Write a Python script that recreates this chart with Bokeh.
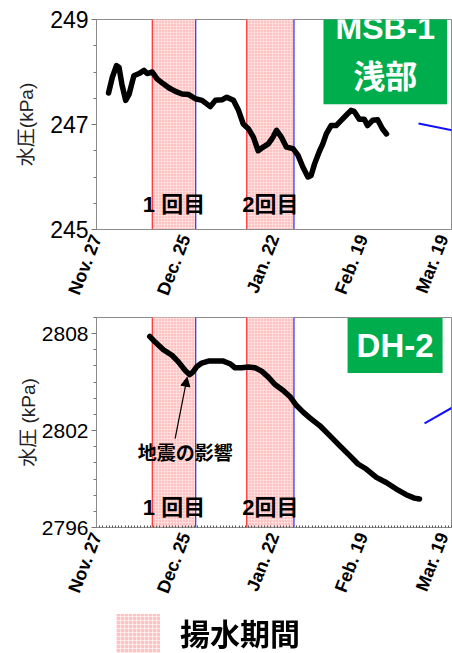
from bokeh.plotting import figure
from bokeh.models import FixedTicker, Label, Arrow, NormalHead, Range1d, Div
from bokeh.layouts import column
from bokeh.embed import file_html
from bokeh.resources import INLINE

# ---------------- data ----------------
x_ticks = [0, 28, 56, 84, 112]          # days since Nov. 27
x_tick_labels = ["Nov. 27", "Dec. 25", "Jan. 22", "Feb. 19", "Mar. 19"]

pump_start = [17.6, 47.4]
pump_end = [31.3, 62.3]
pump_names = ["1 回目", "2回目"]

msb_days = [3.8, 5.0, 6.3, 7.1, 8.0, 9.2, 10.3, 11.8, 13.4, 15.0, 16.0, 17.6, 19.1,
            21.2, 22.8, 24.9, 27.0, 29.1, 31.2, 33.3, 35.9, 37.5, 39.6, 41.1, 43.2,
            44.8, 46.3, 47.9, 49.5, 51.0, 52.6, 54.2, 55.7, 56.8, 58.3, 59.9, 62.0,
            63.6, 65.1, 66.7, 67.7, 68.8, 70.4, 71.4, 72.5, 74.0, 75.6, 77.2, 78.7,
            80.3, 81.3, 82.9, 84.5, 85.5, 87.1, 88.7, 90.2, 91.5]
msb_kpa = [247.60, 247.90, 248.12, 248.09, 247.77, 247.46, 247.58, 247.93, 247.97,
           248.03, 247.97, 248.00, 247.87, 247.77, 247.70, 247.63, 247.58, 247.57,
           247.49, 247.46, 247.34, 247.46, 247.47, 247.52, 247.46, 247.27, 247.01,
           246.92, 246.76, 246.50, 246.57, 246.63, 246.76, 246.89, 246.76, 246.57,
           246.54, 246.41, 246.19, 246.00, 246.03, 246.25, 246.50, 246.63, 246.82,
           246.98, 246.98, 247.08, 247.17, 247.27, 247.25, 247.10, 247.10, 246.98,
           247.08, 247.09, 246.92, 246.82]

dh_days = [16.8, 18.5, 21.1, 23.8, 25.9, 28.0, 29.4, 30.4, 31.7, 33.2, 35.3, 37.9,
           40.0, 42.1, 43.7, 45.8, 47.9, 50.0, 52.1, 54.2, 56.3, 58.9, 61.0, 63.1,
           65.2, 67.3, 70.4, 73.6, 76.7, 79.9, 82.5, 85.1, 88.3, 91.4, 94.6, 97.7,
           100.3, 101.9]
dh_kpa = [2807.83, 2807.48, 2807.00, 2806.66, 2806.24, 2805.72, 2805.46, 2805.62,
          2805.97, 2806.18, 2806.30, 2806.30, 2806.30, 2806.14, 2805.89, 2805.89,
          2805.93, 2805.89, 2805.68, 2805.31, 2804.85, 2804.48, 2804.11, 2803.55,
          2803.14, 2802.79, 2802.31, 2801.69, 2801.07, 2800.45, 2799.93, 2799.62,
          2799.10, 2798.79, 2798.38, 2798.03, 2797.82, 2797.76]

msb_other_days = [101.6, 113.0]
msb_other_kpa = [247.02, 246.88]
dh_other_days = [103.5, 112.5]
dh_other_kpa = [2802.45, 2803.45]

legend_label = "揚水期間"

JP = "Liberation Sans, Noto Sans CJK JP"
PINK = "#ffc2c2"


def make_panel(height, left, top, bottom, ylo, yhi, yticks, nminor, ylabel,
               ytick_size, ylabel_standoff, xminor):
    p = figure(width=452, height=height, output_backend="svg", toolbar_location=None,
               x_range=Range1d(0, 112), y_range=Range1d(ylo, yhi),
               min_border_left=left, min_border_right=1, min_border_top=top,
               min_border_bottom=bottom)
    p.grid.visible = False
    p.outline_line_color = "#8c8c8c"
    p.background_fill_color = "white"

    xa = p.xaxis[0]
    xa.ticker = FixedTicker(ticks=x_ticks,
                            minor_ticks=list(range(0, 113)) if xminor else [])
    xa.major_label_overrides = {t: l for t, l in zip(x_ticks, x_tick_labels)}
    xa.major_label_orientation = 1.2
    xa.major_label_text_font = "Liberation Sans"
    xa.major_label_text_font_style = "bold"
    xa.major_label_text_font_size = "18px"
    xa.major_label_text_color = "black"
    xa.major_label_standoff = 6
    xa.major_tick_out = 0
    xa.major_tick_in = 0
    xa.minor_tick_out = 0
    xa.minor_tick_in = 2
    xa.minor_tick_line_color = "#555555"
    xa.axis_line_color = "#8c8c8c"

    ya = p.yaxis[0]
    step = (yticks[1] - yticks[0]) / nminor
    minors = []
    v = yticks[0]
    while v <= yhi + 1e-9:
        minors.append(round(v, 4))
        v += step
    ya.ticker = FixedTicker(ticks=yticks, minor_ticks=minors)
    ya.major_label_text_font = "Liberation Sans"
    ya.major_label_text_font_size = ytick_size
    ya.major_label_text_color = "black"
    ya.major_label_standoff = 3
    ya.major_tick_out = 5
    ya.major_tick_in = 0
    ya.minor_tick_out = 3
    ya.minor_tick_in = 0
    ya.major_tick_line_color = "#777777"
    ya.minor_tick_line_color = "#777777"
    ya.axis_line_color = "#8c8c8c"
    ya.axis_label = ylabel
    ya.axis_label_text_font = JP
    ya.axis_label_text_font_style = "normal"
    ya.axis_label_text_font_size = "19px"
    ya.axis_label_text_color = "#222222"
    ya.axis_label_standoff = ylabel_standoff

    # pumping periods
    p.quad(left=pump_start, right=pump_end, bottom=ylo - 50, top=yhi + 50,
           fill_color=PINK, fill_alpha=1.0, line_color=None,
           hatch_pattern="+", hatch_color="white", hatch_scale=3,
           hatch_weight=0.6, hatch_alpha=0.6)
    p.segment(x0=pump_start, x1=pump_start, y0=ylo - 50, y1=yhi + 50,
              line_color="#ff2a2a", line_width=1.2)
    p.segment(x0=pump_end, x1=pump_end, y0=ylo - 50, y1=yhi + 50,
              line_color="#2a2aff", line_width=1.2)
    return p


# ---------------- top panel: MSB-1 ----------------
p1 = make_panel(310, 94, 19, 81, 245, 249, [245, 247, 249], 4, "水圧(kPa)",
                "23px", 10, False)
p1.line(msb_days, msb_kpa, line_color="black", line_width=5.5, line_join="round",
        line_cap="round")
p1.line(msb_other_days, msb_other_kpa, line_color="#1010ff", line_width=2)
for s, e, n in zip(pump_start, pump_end, pump_names):
    p1.add_layout(Label(x=(s + e) / 2, y=245.48, text=n, text_align="center",
                        text_baseline="middle", text_font=JP,
                        text_font_style="bold", text_font_size="22px",
                        text_color="black"))
p1.add_layout(Label(x=91.1, y=248.37, text="MSB-1\n浅部", text_align="center",
                    text_baseline="middle", text_font=JP,
                    text_font_style="bold", text_font_size="32px",
                    text_color="white", text_line_height=1.37,
                    background_fill_color="#00ad4c", padding=(12, 9)))

# ---------------- bottom panel: DH-2 ----------------
p2 = make_panel(295, 96, 7, 78, 2796, 2809, [2796, 2802, 2808], 6, "水圧 (kPa)",
                "21px", 0, True)
p2.line(dh_days, dh_kpa, line_color="black", line_width=5.5, line_join="round",
        line_cap="round")
p2.line(dh_other_days, dh_other_kpa, line_color="#1010ff", line_width=2)
for s, e, n in zip(pump_start, pump_end, pump_names):
    p2.add_layout(Label(x=(s + e) / 2, y=2797.24, text=n, text_align="center",
                        text_baseline="middle", text_font=JP,
                        text_font_style="bold", text_font_size="22px",
                        text_color="black"))
p2.add_layout(Label(x=94.2, y=2807.26, text="DH-2", text_align="center",
                    text_baseline="middle", text_font=JP,
                    text_font_style="bold", text_font_size="33px",
                    text_color="white",
                    background_fill_color="#00ad4c", padding=(9, 9)))
p2.add_layout(Arrow(end=NormalHead(size=9, fill_color="black", line_color="black"),
                    x_start=24.8, y_start=2801.5, x_end=28.6, y_end=2805.3,
                    line_color="black", line_width=1.2))
p2.add_layout(Label(x=28.0, y=2800.58, text="地震の影響", text_align="center",
                    text_baseline="middle", text_font=JP,
                    text_font_style="bold", text_font_size="19px",
                    text_color="black"))

# ---------------- legend (HTML, pinned to the page) ----------------
grid = ("repeating-linear-gradient(0deg, rgba(255,255,255,0.6) 0 1px, "
        "transparent 1px 4px), repeating-linear-gradient(90deg, "
        "rgba(255,255,255,0.6) 0 1px, transparent 1px 4px)")
legend_html = (
    f'<div style="position:fixed;left:116px;top:614px;width:44px;height:39px;'
    f'background-color:{PINK};background-image:{grid};"></div>'
    f'<div style="position:fixed;left:180px;top:615px;height:40px;'
    f"font-family:'Liberation Sans','Noto Sans CJK JP';font-weight:bold;"
    f'font-size:30px;line-height:40px;color:black;white-space:nowrap;">'
    f'{legend_label}</div>'
)
legend = Div(text=legend_html, width=452, height=48, margin=0)

layout = column(p1, p2, legend, spacing=0)
open("out.html", "w").write(file_html(layout, INLINE))
